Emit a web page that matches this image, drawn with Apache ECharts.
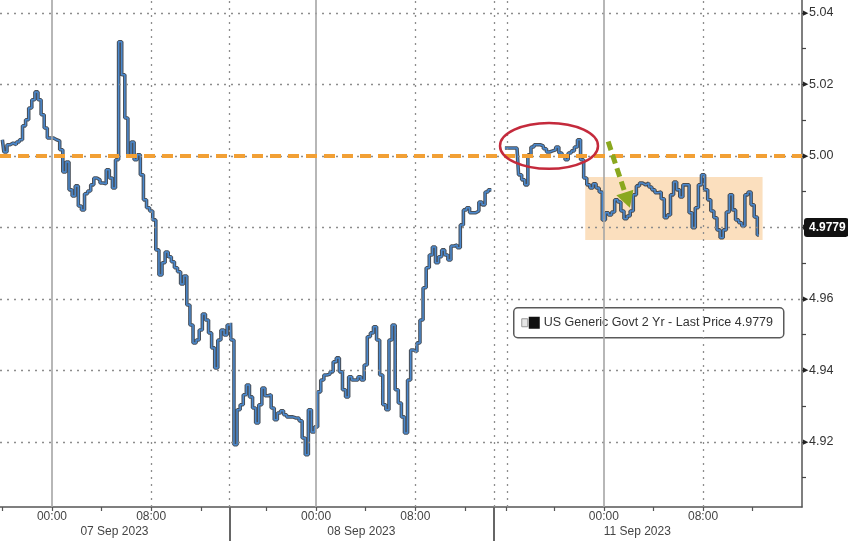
<!DOCTYPE html>
<html><head><meta charset="utf-8">
<script src="https://cdn.jsdelivr.net/npm/echarts@6/dist/echarts.min.js"></script>
<style>html,body{margin:0;padding:0;background:#fff}#c{width:848px;height:541px}</style>
</head><body><div id="c"></div>
<script>
// x is "chart hours": trading hours since 07 Sep 2023 00:00, non-trading gaps removed (Bloomberg style)
const BAR_STEP = 0.25; // 15-minute bars
const sessionStart = [-4.0, 14.3, 37.5];
const sessA = [5.0045,5.0011,5.0031,5.0036,5.0031,5.0039,5.0045,5.0084,5.0101,5.0134,5.0157,5.0179,5.0157,5.0115,5.0078,5.0050,5.0050,5.0045,5.0042,5.0017,
  4.9955,4.9983,4.9905,4.9888,4.9916,4.9860,4.9849,4.9894,4.9902,4.9919,4.9938,4.9933,4.9924,4.9922,4.9961,4.9938,4.9910,4.9989,5.0319,5.0227,
  5.0106,5.0003,5.0039,4.9989,5.0003,4.9947,4.9877,4.9855,4.9846,4.9821,4.9737,4.9667,4.9701,4.9731,4.9718,4.9704,4.9687,4.9676,4.9642,4.9664,
  4.9583,4.9527,4.9477,4.9485,4.9513,4.9558,4.9541,4.9505,4.9463,4.9407,4.9485,4.9513,4.9499,4.9527];
const sessB = [4.9533,4.9485,4.9192,4.9290,4.9304,4.9332,4.9359,4.9326,4.9295,4.9253,4.9304,4.9351,4.9329,4.9332,4.9295,4.9262,4.9281,4.9287,4.9276,4.9270,
  4.9270,4.9267,4.9267,4.9259,4.9211,4.9164,4.9290,4.9228,4.9242,4.9340,4.9373,4.9387,4.9390,4.9396,4.9424,4.9435,4.9396,4.9346,4.9326,4.9382,
  4.9373,4.9373,4.9382,4.9373,4.9415,4.9494,4.9505,4.9522,4.9485,4.9387,4.9304,4.9290,4.9485,4.9527,4.9346,4.9309,4.9270,4.9225,4.9373,4.9457,
  4.9452,4.9477,4.9541,4.9631,4.9687,4.9723,4.9745,4.9701,4.9718,4.9737,4.9723,4.9709,4.9748,4.9751,4.9743,4.9807,4.9849,4.9855,4.9841,4.9841,
  4.9846,4.9871,4.9863,4.9899,4.9905];
const sessC = [5.0022,4.9947,4.9933,4.9919,5.0003,5.0025,5.0031,5.0031,5.0028,5.0020,5.0011,5.0014,5.0017,5.0025,5.0008,5.0000,4.9989,5.0008,5.0014,5.0025,
  5.0045,4.9989,4.9938,4.9919,4.9910,4.9922,4.9910,4.9899,4.9821,4.9841,4.9835,4.9843,4.9877,4.9871,4.9846,4.9824,4.9832,4.9846,4.9891,4.9916,
  4.9924,4.9919,4.9924,4.9913,4.9905,4.9897,4.9899,4.9880,4.9827,4.9835,4.9891,4.9927,4.9905,4.9885,4.9919,4.9919,4.9841,4.9799,4.9855,4.9919,
  4.9947,4.9905,4.9877,4.9846,4.9827,4.9793,4.9771,4.9793,4.9843,4.9891,4.9849,4.9821,4.9813,4.9804,4.9891,4.9899,4.9863,4.9829,4.9779];

const yMin = 4.9018, yMax = 5.0436;
const yTickValues = [4.91,4.92,4.93,4.94,4.95,4.96,4.97,4.98,4.99,5.00,5.01,5.02,5.03,5.04];
const yLabelValues = [4.92,4.94,4.96,4.98,5.00,5.02,5.04];
const xMin = -4.19, xMax = 60.48;
const xTickHours = [-4,0,4,8,12,17.3,21.3,25.3,29.3,33.3,36.6,40.5,44.5,48.5,52.5,56.5];
const xLabelHours = [0,8,21.3,29.3,44.5,52.5];
const xLabelText = ['00:00','08:00','00:00','08:00','00:00','08:00'];
const dayLineHours = [0,21.3,44.5];
const dottedHours = [8,14.3,29.3,35.65,36.7,52.5];
const sessionBreakHours = [14.3,35.65];
const dateCenters = [5.04,24.95,47.2];
const dateText = ['07 Sep 2023','08 Sep 2023','11 Sep 2023'];
const refLevel = 5.00;
const lastPrice = 4.9779;
const legendText = 'US Generic Govt 2 Yr - Last Price 4.9779';
// annotation anchors in data space
const ellipseBox = {x0:36.13, x1:44.03, y0:5.0092, y1:4.9964};
const arrowFrom = [44.85, 5.0040], arrowTo = [46.6, 4.9855];
const rangeBox = {x0:43.0, x1:57.3, y0:4.9941, y1:4.9765};

const pts = [];
[sessA, sessB, sessC].forEach((s, i) => {
  s.forEach((v, k) => pts.push([sessionStart[i] + k * BAR_STEP, v]));
  if (i < 2) pts.push([sessionStart[i] + s.length * BAR_STEP, '-']);
});

function lookup(v, keys, texts){
  let best = 0, d = Infinity;
  keys.forEach((k, i) => { const dd = Math.abs(k - v); if (dd < d) { d = dd; best = i; } });
  return texts[best];
}
const FONT = 'Liberation Sans';
const chart = echarts.init(document.getElementById('c'), null, {renderer:'canvas'});
const grayDot = {color:'#8d8d8d', width:1.3, type:[2,5]};
const option = {
  animation:false,
  backgroundColor:'#ffffff',
  grid:{left:0, right:46, top:0, bottom:34, containLabel:false},
  xAxis:[{
    type:'value', min:xMin, max:xMax, position:'bottom',
    axisLine:{show:true, onZero:false, lineStyle:{color:'#555', width:1.5}},
    axisTick:{show:true, customValues:xTickHours, length:4, lineStyle:{color:'#555', width:1.2}},
    axisLabel:{customValues:xLabelHours, formatter:v => lookup(v, xLabelHours, xLabelText), margin:4, color:'#444', fontSize:12, fontFamily:FONT},
    splitLine:{show:false}
  },{
    type:'value', min:xMin, max:xMax, position:'bottom',
    axisLine:{show:false, onZero:false},
    axisTick:{show:true, customValues:sessionBreakHours, length:34, lineStyle:{color:'#666', width:2}},
    axisLabel:{customValues:dateCenters, formatter:v => lookup(v, dateCenters, dateText), margin:19, color:'#444', fontSize:12, fontFamily:FONT},
    splitLine:{show:false}
  }],
  yAxis:{
    type:'value', position:'right', min:yMin, max:yMax, scale:true,
    axisLine:{show:true, onZero:false, lineStyle:{color:'#555', width:1.5}},
    axisTick:{show:true, customValues:yTickValues, length:4, lineStyle:{color:'#444', width:1.2}},
    axisLabel:{customValues:yLabelValues, formatter:v => '{t|▶}' + v.toFixed(2), margin:1, color:'#333', fontSize:12.5, fontFamily:FONT,
      rich:{t:{fontSize:7, color:'#222', padding:[0,1,0,0]}}},
    splitLine:{show:false}
  },
  series:[
    {type:'line', name:'grid', data:[], z:1, silent:true,
      markLine:{silent:true, symbol:['none','none'], label:{show:false}, animation:false,
        data:[].concat(
          yLabelValues.map(v => ({yAxis:v, lineStyle:grayDot})),
          dottedHours.map(h => ({xAxis:h, lineStyle:grayDot})),
          dayLineHours.map(h => ({xAxis:h, lineStyle:{color:'#a5a5a5', width:1.6, type:'solid'}}))
        )}},
    {type:'line', name:'outline', data:pts, step:'middle', showSymbol:false, connectNulls:false, z:3, silent:true,
      lineStyle:{color:'#29313c', width:3.6, opacity:0.85}},
    {type:'line', name:'US Generic Govt 2 Yr', data:pts, step:'middle', showSymbol:false, connectNulls:false, z:4, silent:true,
      lineStyle:{color:'#4a89cf', width:1.5}},
    {type:'line', name:'annot', data:[], z:5, silent:true,
      markArea:{silent:true, itemStyle:{color:'rgba(247,192,125,0.5)'},
        data:[[{xAxis:rangeBox.x0, yAxis:rangeBox.y0},{xAxis:rangeBox.x1, yAxis:rangeBox.y1}]]},
      markLine:{silent:true, symbol:['none','none'], animation:false,
        data:[
          {yAxis:refLevel, label:{show:false}, lineStyle:{color:'#f2a035', width:4, type:[11,7]}},
          {yAxis:lastPrice, lineStyle:{color:'rgba(0,0,0,0)', width:0},
            label:{show:true, position:'end', distance:2, formatter:() => lastPrice.toFixed(4), color:'#fff', backgroundColor:'#111',
              padding:[4,3,3,5], borderRadius:3, fontSize:12, fontWeight:'bold', fontFamily:FONT, opacity:1}}
        ]}}
  ]
};
chart.setOption(option);

// annotations positioned from data coordinates
const p0 = chart.convertToPixel({xAxisIndex:0, yAxisIndex:0}, [ellipseBox.x0, ellipseBox.y0]);
const p1 = chart.convertToPixel({xAxisIndex:0, yAxisIndex:0}, [ellipseBox.x1, ellipseBox.y1]);
const a0 = chart.convertToPixel({xAxisIndex:0, yAxisIndex:0}, arrowFrom);
const a1 = chart.convertToPixel({xAxisIndex:0, yAxisIndex:0}, arrowTo);
const dx = a1[0]-a0[0], dy = a1[1]-a0[1], L = Math.hypot(dx, dy), ux = dx/L, uy = dy/L;
const headLen = 16, headW = 9;
const base = [a1[0]-ux*headLen, a1[1]-uy*headLen];
chart.setOption({graphic:[
  {type:'ellipse', z:100, shape:{cx:(p0[0]+p1[0])/2, cy:(p0[1]+p1[1])/2, rx:Math.abs(p1[0]-p0[0])/2, ry:Math.abs(p1[1]-p0[1])/2},
    style:{fill:'none', stroke:'#c42a3c', lineWidth:2.5}},
  {type:'line', z:100, shape:{x1:a0[0], y1:a0[1], x2:base[0]+ux*2, y2:base[1]+uy*2},
    style:{stroke:'#8aa81f', lineWidth:5, lineDash:[9,5]}},
  {type:'polygon', z:100, shape:{points:[[a1[0],a1[1]],[base[0]-uy*headW, base[1]+ux*headW],[base[0]+uy*headW, base[1]-ux*headW]]},
    style:{fill:'#8aa81f'}},
  {type:'group', left:513, top:307, z:100, children:[
    {type:'rect', shape:{x:0, y:0, width:270, height:30, r:4}, style:{fill:'#fff', stroke:'#5a5a5a', lineWidth:1.5}},
    {type:'rect', shape:{x:8, y:11, width:6, height:8}, style:{fill:'#e6e6e6', stroke:'#999', lineWidth:1}},
    {type:'rect', shape:{x:15, y:9, width:11, height:12}, style:{fill:'#111'}},
    {type:'text', x:30, y:15, style:{text:legendText, font:'12.5px "Liberation Sans"', fill:'#333', verticalAlign:'middle'}}
  ]}
]});
</script></body></html>
